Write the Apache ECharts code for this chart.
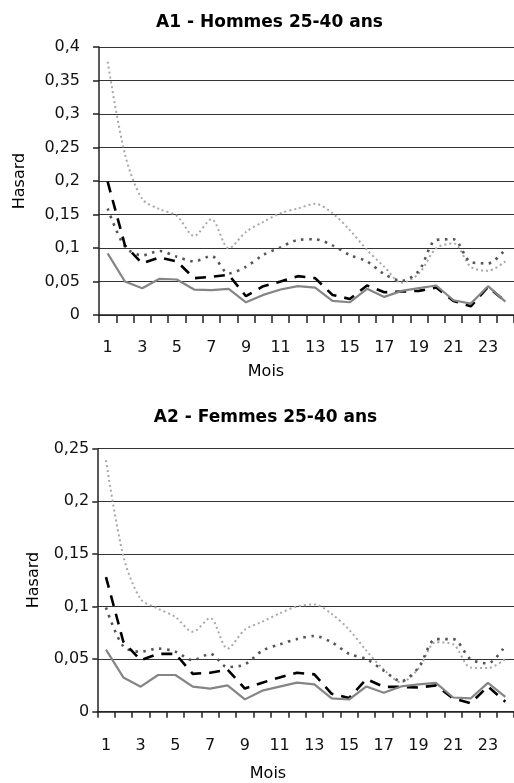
<!DOCTYPE html>
<html>
<head>
<meta charset="utf-8">
<script src="https://cdn.jsdelivr.net/npm/echarts@6/dist/echarts.min.js"></script>
<style>
html,body{margin:0;padding:0;background:#fff;}
#c{width:514px;height:783px;}
</style>
</head>
<body>
<div id="c"></div>
<script>
// ---- Data ----
const months = ['1','2','3','4','5','6','7','8','9','10','11','12','13','14','15','16','17','18','19','20','21','22','23','24'];

// A1 - Hommes 25-40 ans
const a1LightDotted = [0.378, 0.240, 0.173, 0.158, 0.148, 0.118, 0.143, 0.0995, 0.124, 0.139, 0.152, 0.159, 0.166, 0.152, 0.127, 0.097, 0.072, 0.048, 0.062, 0.0995, 0.107, 0.072, 0.066, 0.080];
const a1DarkDotted  = [0.159, 0.102, 0.089, 0.0955, 0.087, 0.080, 0.088, 0.062, 0.072, 0.0896, 0.101, 0.112, 0.113, 0.104, 0.0896, 0.080, 0.061, 0.051, 0.066, 0.112, 0.113, 0.079, 0.077, 0.098];
const a1Dashed      = [0.199, 0.104, 0.077, 0.086, 0.080, 0.055, 0.057, 0.060, 0.028, 0.043, 0.050, 0.058, 0.055, 0.030, 0.024, 0.044, 0.034, 0.035, 0.036, 0.041, 0.021, 0.013, 0.042, 0.020];
const a1Solid       = [0.092, 0.050, 0.040, 0.054, 0.053, 0.038, 0.037, 0.039, 0.019, 0.030, 0.038, 0.043, 0.041, 0.021, 0.019, 0.039, 0.027, 0.036, 0.040, 0.044, 0.022, 0.017, 0.043, 0.020];

// A2 - Femmes 25-40 ans
const a2LightDotted = [0.239, 0.148, 0.107, 0.098, 0.090, 0.076, 0.089, 0.060, 0.078, 0.0855, 0.0935, 0.100, 0.102, 0.093, 0.078, 0.058, 0.040, 0.028, 0.041, 0.066, 0.064, 0.042, 0.0415, 0.050];
const a2DarkDotted  = [0.099, 0.062, 0.057, 0.060, 0.057, 0.049, 0.055, 0.0425, 0.045, 0.058, 0.064, 0.069, 0.072, 0.066, 0.055, 0.050, 0.039, 0.029, 0.042, 0.069, 0.069, 0.050, 0.046, 0.063];
const a2Dashed      = [0.128, 0.0665, 0.049, 0.055, 0.055, 0.036, 0.037, 0.040, 0.022, 0.0276, 0.0326, 0.037, 0.0355, 0.017, 0.013, 0.031, 0.0236, 0.0236, 0.023, 0.025, 0.0126, 0.008, 0.024, 0.0094];
const a2Solid       = [0.059, 0.0326, 0.0238, 0.0349, 0.0349, 0.0238, 0.022, 0.025, 0.0117, 0.020, 0.0238, 0.0276, 0.026, 0.0126, 0.0116, 0.024, 0.018, 0.024, 0.026, 0.0274, 0.0135, 0.0126, 0.0274, 0.014];

const titles = ['A1 - Hommes 25-40 ans', 'A2 - Femmes 25-40 ans'];
const xName = 'Mois';
const yName = 'Hasard';

// ---- Chart ----
const FONT = '"DejaVu Sans", sans-serif';
const chart = echarts.init(document.getElementById('c'), null, {renderer: 'canvas'});

function fmt(v){ return String(+v.toFixed(2)).replace('.', ','); }

function xAxis(gi, tickLen, margin){
  return {
    type: 'category', gridIndex: gi, data: months, boundaryGap: true,
    axisLine: {lineStyle: {color: '#222', width: 1.5}},
    axisTick: {show: true, interval: 0, length: tickLen, inside: false, lineStyle: {color: '#222', width: 1.5}},
    axisLabel: {interval: 1, margin: margin, color: '#111', fontSize: 16, fontFamily: FONT},
    splitLine: {show: false}
  };
}
function yAxis(gi, max, margin, tickLen){
  return {
    type: 'value', gridIndex: gi, min: 0, max: max, interval: 0.05,
    axisLine: {show: true, lineStyle: {color: '#222', width: 1.5}},
    axisTick: {show: true, length: tickLen, lineStyle: {color: '#222', width: 1.5}},
    axisLabel: {margin: margin, color: '#111', fontSize: 16, fontFamily: FONT, formatter: fmt},
    splitLine: {show: true, lineStyle: {color: '#333', width: 1.2}}
  };
}
function series(gi, light, dark, dashed, solid){
  return [
    {type: 'line', xAxisIndex: gi, yAxisIndex: gi, data: light, symbol: 'none', smooth: 0.3,
     lineStyle: {color: '#a8a8a8', width: 2, type: [2, 3]}, z: 2},
    {type: 'line', xAxisIndex: gi, yAxisIndex: gi, data: dark, symbol: 'none', smooth: 0.3,
     lineStyle: {color: '#555', width: 2.6, type: [2.5, 5.5]}, z: 3},
    {type: 'line', xAxisIndex: gi, yAxisIndex: gi, data: dashed, symbol: 'none', smooth: false,
     lineStyle: {color: '#000', width: 2.6, type: [11, 8]}, z: 4},
    {type: 'line', xAxisIndex: gi, yAxisIndex: gi, data: solid, symbol: 'none', smooth: false,
     lineStyle: {color: '#858585', width: 2.2, type: 'solid'}, z: 5}
  ];
}
function txt(x, y, s, font, rot){
  return {type: 'text', x: x, y: y, rotation: rot || 0, silent: true,
    style: {text: s, font: font, fill: '#000', align: 'center', verticalAlign: 'middle'}};
}

chart.setOption({
  animation: false,
  backgroundColor: '#fff',
  grid: [
    {left: 99, top: 47, width: 416.4, height: 268, containLabel: false},
    {left: 97.3, top: 448.7, width: 427.2, height: 263, containLabel: false}
  ],
  xAxis: [xAxis(0, 8, 25), xAxis(1, 6, 26)],
  yAxis: [yAxis(0, 0.4, 19, 6), yAxis(1, 0.25, 8, 5)],
  series: [].concat(
    series(0, a1LightDotted, a1DarkDotted, a1Dashed, a1Solid),
    series(1, a2LightDotted, a2DarkDotted, a2Dashed, a2Solid)
  ),
  graphic: [
    txt(269.5, 22.5, titles[0], 'bold 17px ' + FONT),
    txt(265.5, 417.5, titles[1], 'bold 17px ' + FONT),
    txt(266, 372, xName, '16px ' + FONT),
    txt(268, 774, xName, '16px ' + FONT),
    txt(20, 181, yName, '16px ' + FONT, Math.PI/2),
    txt(34, 580, yName, '16px ' + FONT, Math.PI/2)
  ]
});
</script>
</body>
</html>
